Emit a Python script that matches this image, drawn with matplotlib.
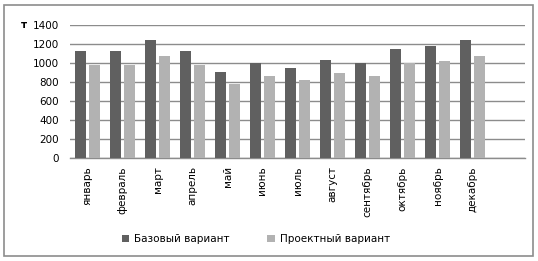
import matplotlib
matplotlib.use("Agg")
import matplotlib.pyplot as plt
import numpy as np
from matplotlib.patches import Rectangle

months = ["январь", "февраль", "март", "апрель", "май", "июнь", "июль",
          "август", "сентябрь", "октябрь", "ноябрь", "декабрь"]
base = [1130, 1130, 1245, 1130, 905, 1000, 948, 1032, 1000, 1148, 1180, 1245]
proj = [980, 980, 1075, 980, 780, 865, 822, 896, 865, 1000, 1022, 1075]
series_names = ["Базовый вариант", "Проектный вариант"]
yticks = [0, 200, 400, 600, 800, 1000, 1200, 1400]

plt.rcParams['font.family'] = ['DejaVu Sans']
fig = plt.figure(figsize=(5.38, 2.61), dpi=100)
fig.patches.append(Rectangle((4/538, 5/261), 529/538, 251/261, transform=fig.transFigure,
                             fill=False, edgecolor='#8c8c8c', linewidth=1.2))
ax = fig.add_axes([70/538, 103/261, 455/538, 133/261])

x = np.arange(len(months))
w = 0.314
off = 0.214
ax.bar(x - off, base, width=w, color='#606060', label=series_names[0], zorder=3)
ax.bar(x + off, proj, width=w, color='#b2b2b2', label=series_names[1], zorder=3)

ax.set_xlim(-0.5, len(months) + 0.5)
ax.set_ylim(0, 1400)
ax.set_yticks(yticks)
ax.set_xticks(x)
ax.set_xticklabels(months, rotation=90, fontsize=7.5)
ax.tick_params(axis='both', length=0, labelsize=7.5)
ax.tick_params(axis='x', pad=6)
ax.tick_params(axis='y', pad=8)
ax.yaxis.grid(True, color='#8c8c8c', linewidth=1.0, zorder=0)
for s in ['top', 'right', 'left']:
    ax.spines[s].set_visible(False)
ax.spines['bottom'].set_color('#8c8c8c')
ax.spines['bottom'].set_linewidth(1.0)

fig.text(24/538, 1 - 25/261, "т", fontsize=7.5, ha='center', va='center', fontweight='bold')

fig.legend(loc='center', bbox_to_anchor=(256/538, 1 - 239/261), ncol=2, frameon=False,
           fontsize=7.5, handlelength=0.7, handleheight=0.7, columnspacing=3.6, handletextpad=0.5,
           bbox_transform=fig.transFigure)

fig.savefig("out.png", dpi=100)
